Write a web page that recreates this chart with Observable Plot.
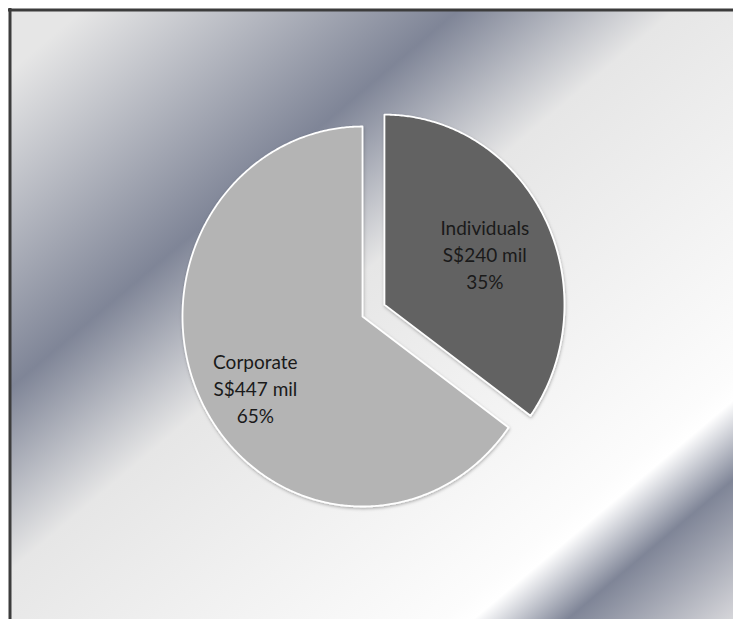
<!DOCTYPE html>
<html>
<head>
<meta charset="utf-8">
<script src="https://cdn.jsdelivr.net/npm/d3@7"></script>
<script src="https://cdn.jsdelivr.net/npm/@observablehq/plot@0.6"></script>
<style>
  html, body { margin: 0; padding: 0; background: #ffffff; }
  #chart svg { display: block; }
</style>
</head>
<body>
<div id="chart"></div>
<script>
// ---- data ----
const categories = ["Individuals", "Corporate"];
const values = [240, 447];            // S$ million
const sliceColors = ["#626262", "#b4b4b4"];

// ---- layout (not data) ----
const W = 733, H = 619;
const CX = 362, CY = 316;             // pie centre in px
const RX = 180, RY = 190;             // px per radius unit
const explode = {Individuals: 0.137, Corporate: 0};
const labelR = {Individuals: 0.62, Corporate: 0.70};
const labelNudge = {Individuals: [1, 2], Corporate: [5, 10]}; // px

const total = d3.sum(values);
const rows = categories.map((name, i) => ({name, value: values[i]}));
const arcs = d3.pie().sort(null).value(d => d.value)(rows);
const pct = d3.format(".0%");

// polygon vertices for each slice, computed from the pie angles
const pts = [];
const labels = [];
for (const a of arcs) {
  const name = a.data.name;
  const mid = (a.startAngle + a.endAngle) / 2;
  const e = explode[name];
  const ox = e * Math.sin(mid), oy = e * Math.cos(mid);
  pts.push({name, x: ox, y: oy});
  const n = Math.ceil((a.endAngle - a.startAngle) / (Math.PI / 180)) * 2;
  for (let k = 0; k <= n; ++k) {
    const t = a.startAngle + (a.endAngle - a.startAngle) * k / n;
    pts.push({name, x: ox + Math.sin(t), y: oy + Math.cos(t)});
  }
  const r = labelR[name], [ndx, ndy] = labelNudge[name];
  labels.push({
    name,
    x: ox + r * Math.sin(mid) + ndx / RX,
    y: oy + r * Math.cos(mid) - ndy / RY,
    text: `${name}\nS$${a.data.value} mil\n${pct(a.data.value / total)}`
  });
}

const xMin = -CX / RX, yMax = CY / RY;

const plot = Plot.plot({
  width: W,
  height: H,
  margin: 0,
  x: {domain: [xMin, (W - CX) / RX], axis: null},
  y: {domain: [-(H - CY) / RY, yMax], axis: null},
  color: {domain: categories, range: sliceColors},
  style: {background: "transparent"},
  marks: [
    Plot.frame({fill: "url(#bg)", insetLeft: 9.5, insetTop: 9.5}),
    Plot.line(pts, {
      x: "x", y: "y", z: "name", fill: "name",
      stroke: "#ffffff", strokeWidth: 1.8, curve: "linear-closed"
    }),
    Plot.text(labels, {
      x: "x", y: "y", text: "text",
      fontFamily: "Lato, 'Open Sans', sans-serif", fontSize: 19,
      lineHeight: 1.42, fill: "#1a1a1a", textAnchor: "middle"
    }),
    Plot.ruleX([xMin], {dx: 9.5, insetTop: 8, stroke: "#3c3c3c", strokeWidth: 3}),
    Plot.ruleY([yMax], {dy: 9.5, insetLeft: 8, stroke: "#3c3c3c", strokeWidth: 3})
  ]
});

const svg = d3.select(plot);
svg.insert("defs", ":first-child").html(`
  <linearGradient id="bg" x1="0" y1="0" x2="1" y2="1">
    <stop offset="0" stop-color="#e6e6e6"/>
    <stop offset="0.05" stop-color="#e6e6e6"/>
    <stop offset="0.31" stop-color="#7f8597"/>
    <stop offset="0.46" stop-color="#e6e6e6"/>
    <stop offset="0.80" stop-color="#fcfcfc"/>
    <stop offset="0.82" stop-color="#ffffff"/>
    <stop offset="0.885" stop-color="#7f8597"/>
    <stop offset="1" stop-color="#d6d6da"/>
  </linearGradient>
  <filter id="shadow" x="-20%" y="-20%" width="140%" height="140%">
    <feDropShadow dx="0.5" dy="1.5" stdDeviation="1.6" flood-color="#000000" flood-opacity="0.28"/>
  </filter>
`);
svg.selectAll('g[aria-label="line"]').attr("filter", "url(#shadow)");

document.getElementById("chart").appendChild(plot);
</script>
</body>
</html>
